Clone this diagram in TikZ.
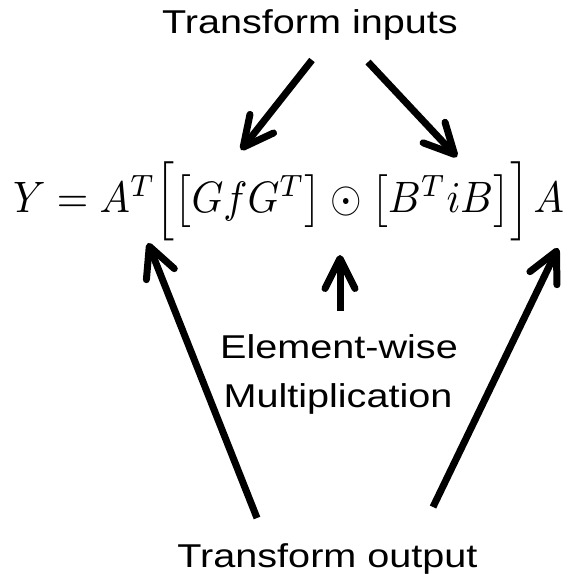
\documentclass[tikz,border=0pt]{standalone}
\usepackage{fontspec}
\setmainfont{Liberation Sans}
\usetikzlibrary{arrows.meta}
\tikzset{
  lbl/.style={inner sep=0pt, anchor=base, font=\fontsize{33}{40}\selectfont},
  formula/.style={inner sep=0pt, anchor=base west},
  bigarrow/.style={line width=7pt, -{Straight Barb[length=30pt,width=30pt,round]}},
}
\newcommand{\wide}[1]{\scalebox{1.2}[1]{#1}}
\begin{document}
\begin{tikzpicture}[x=1pt,y=-1pt]
\useasboundingbox (0,0) rectangle (572,574);
\node[lbl] (tin) at (310,33) {\wide{Transform inputs}};
\node[formula] (eq) at (13,212) {\scalebox{4.05}[4.4]{\fontsize{10}{12}\selectfont$Y = A^T\Big[\big[GfG^T\big]\odot\big[B^TiB\big]\Big]\mkern2mu A$}};
\node[lbl] (ew1) at (339,358) {\wide{Element-wise}};
\node[lbl] (ew2) at (338,407) {\wide{Multiplication}};
\node[lbl] (tout) at (327.5,567) {\wide{Transform output}};
\coordinate (s1) at (312,60);
\coordinate (t1) at (241,150);
\coordinate (s2) at (368,62);
\coordinate (t2) at (457,157);
\coordinate (s3) at (340,311);
\coordinate (t3) at (340,255);
\coordinate (s4) at (257,518);
\coordinate (t4) at (148,243);
\coordinate (s5) at (433,507);
\coordinate (t5) at (558,248);
\draw[bigarrow] (s1) -- (t1);
\draw[bigarrow] (s2) -- (t2);
\draw[bigarrow] (s3) -- (t3);
\draw[bigarrow] (s4) -- (t4);
\draw[bigarrow] (s5) -- (t5);
\end{tikzpicture}
\end{document}
